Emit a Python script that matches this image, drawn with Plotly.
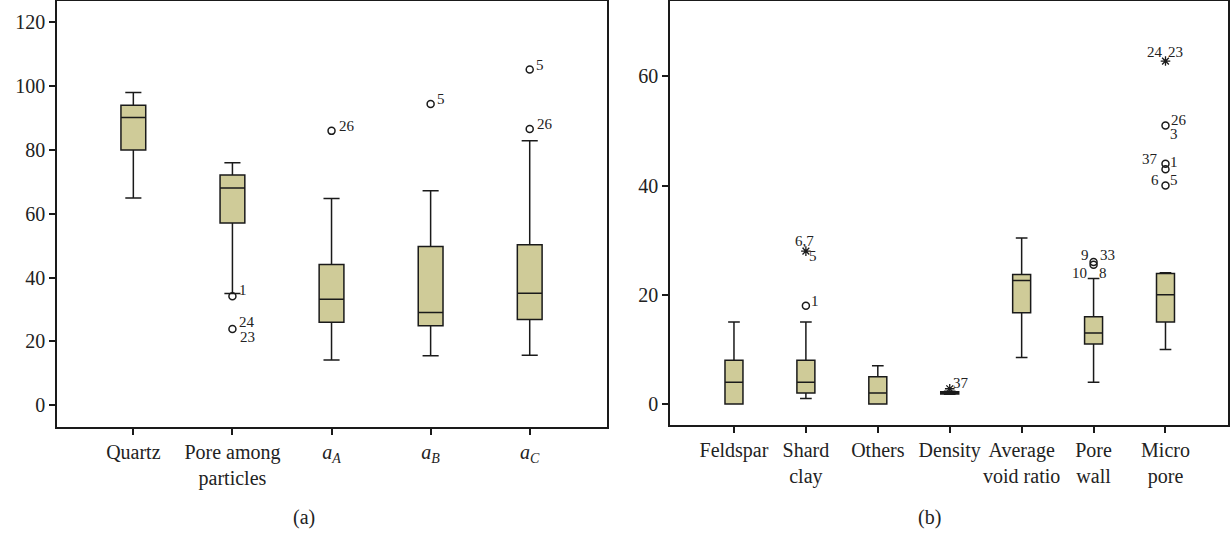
import plotly.graph_objects as go

# ---------------- data ----------------
cats_a = ["Quartz", "Pore among<br>particles", "<i>a</i><sub><i>A</i></sub>",
          "<i>a</i><sub><i>B</i></sub>", "<i>a</i><sub><i>C</i></sub>"]
lo_a = [65, 35, 14.2, 15.5, 15.7]
q1_a = [80, 57.1, 26, 24.9, 26.9]
med_a = [90.2, 68.1, 33.2, 29.1, 35.1]
q3_a = [94, 72.2, 44.1, 49.8, 50.3]
hi_a = [98, 76, 64.8, 67.2, 82.9]

# outliers panel a: (category index, value, marker type)
out_a_x = [1, 1, 2, 3, 4, 4]
out_a_y = [34.2, 23.9, 86, 94.4, 105.2, 86.6]
out_a_sym = ["o", "o", "o", "o", "o", "o"]

cats_b = ["Feldspar", "Shard<br>clay", "Others", "Density", "Average<br>void ratio",
          "Pore<br>wall", "Micro<br>pore"]
lo_b = [0, 1, 0, 1.8, 8.5, 4, 10]
q1_b = [0, 2, 0, 1.85, 16.7, 11, 15]
med_b = [4, 4, 2, 2.05, 22.6, 13, 20]
q3_b = [8, 8, 5, 2.25, 23.7, 16, 23.9]
hi_b = [15, 15, 7, 2.35, 30.4, 23, 24.05]

out_b_x = [1, 1, 3, 5, 5, 6, 6, 6, 6, 6]
out_b_y = [28, 18, 2.8, 26, 25.5, 62.8, 51, 44, 43, 40]
out_b_sym = ["*", "o", "*", "o", "o", "*", "o", "o", "o", "o"]

# outlier labels: (panel, category index, value, text, dx, dy)
labels = [
    ("a", 1, 34.2, "1", 11, 6),
    ("a", 1, 23.9, "24", 15, 7),
    ("a", 1, 23.9, "23", 15, -8),
    ("a", 2, 86, "26", 15, 5),
    ("a", 3, 94.4, "5", 10, 5),
    ("a", 4, 105.2, "5", 10, 5),
    ("a", 4, 86.6, "26", 15, 5),
    ("b", 1, 28, "6,7", -1, 10),
    ("b", 1, 28, "5", 7, -5),
    ("b", 1, 18, "1", 9, 5),
    ("b", 3, 2.8, "37", 11, 6),
    ("b", 5, 26, "9", -9, 7),
    ("b", 5, 26, "33", 14, 7),
    ("b", 5, 25.5, "10", -14, -8),
    ("b", 5, 25.5, "8", 9, -8),
    ("b", 6, 62.8, "24", -10, 9),
    ("b", 6, 62.8, "23", 10, 9),
    ("b", 6, 51, "26", 14, 6),
    ("b", 6, 51, "3", 9, -8),
    ("b", 6, 44, "37", -15, 5),
    ("b", 6, 44, "1", 9, 2),
    ("b", 6, 40, "6", -10, 6),
    ("b", 6, 40, "5", 9, 6),
]

# ---------------- style ----------------
FONT = "Liberation Serif"
FILL = "#CFCB98"
LINE = "#1a1a1a"
TXT = "#222222"

fig = go.Figure()

def add_boxes(xs, lo, q1, med, q3, hi, xa, ya):
    fig.add_trace(go.Box(
        x=xs, lowerfence=lo, q1=q1, median=med, q3=q3, upperfence=hi,
        fillcolor=FILL, line=dict(color=LINE, width=1.5), width=0.25,
        whiskerwidth=0.65, boxpoints=False, xaxis=xa, yaxis=ya,
        showlegend=False, hoverinfo="skip"))

def add_outliers(xs, ys, syms, xa, ya):
    cx = [x for x, s in zip(xs, syms) if s == "o"]
    cy = [y for y, s in zip(ys, syms) if s == "o"]
    sx = [x for x, s in zip(xs, syms) if s == "*"]
    sy = [y for y, s in zip(ys, syms) if s == "*"]
    fig.add_trace(go.Scatter(x=cx, y=cy, mode="markers", xaxis=xa, yaxis=ya,
                             marker=dict(symbol="circle-open", size=7, color=LINE,
                                         line=dict(color=LINE, width=1.5)),
                             showlegend=False, hoverinfo="skip"))
    if sx:
        fig.add_trace(go.Scatter(x=sx, y=sy, mode="markers", xaxis=xa, yaxis=ya,
                                 marker=dict(symbol="asterisk-open", size=8, color=LINE,
                                             line=dict(color=LINE, width=1.3)),
                                 showlegend=False, hoverinfo="skip"))

add_boxes(list(range(len(cats_a))), lo_a, q1_a, med_a, q3_a, hi_a, "x", "y")
add_outliers(out_a_x, out_a_y, out_a_sym, "x", "y")
add_boxes(list(range(len(cats_b))), lo_b, q1_b, med_b, q3_b, hi_b, "x2", "y2")
add_outliers(out_b_x, out_b_y, out_b_sym, "x2", "y2")

for panel, ci, v, t, dx, dy in labels:
    fig.add_annotation(x=ci, y=v, text=t, showarrow=False,
                       xref="x" if panel == "a" else "x2",
                       yref="y" if panel == "a" else "y2",
                       xshift=dx, yshift=dy,
                       font=dict(family=FONT, size=15, color=TXT))

axis_common = dict(showline=True, linecolor=LINE, linewidth=1.5, mirror=True,
                   ticks="outside", ticklen=6, tickwidth=1.5, tickcolor=LINE,
                   showgrid=False, zeroline=False,
                   tickfont=dict(family=FONT, size=20, color=TXT))

fig.update_layout(
    width=1232, height=535, margin=dict(l=0, r=0, t=1, b=108),
    paper_bgcolor="white", plot_bgcolor="white",
    xaxis=dict(domain=[0.0463, 0.4927], range=[-0.77, 4.78],
               tickvals=list(range(len(cats_a))), ticktext=cats_a, anchor="y",
               **axis_common),
    yaxis=dict(domain=[0, 1], range=[-6.8, 126.7], tickvals=[0, 20, 40, 60, 80, 100, 120],
               anchor="x", **axis_common),
    xaxis2=dict(domain=[0.5438, 0.9968], range=[-0.89, 6.87],
                tickvals=list(range(len(cats_b))), ticktext=cats_b, anchor="y2",
                **axis_common),
    yaxis2=dict(domain=[0.0047, 1], range=[-3.84, 73.8], tickvals=[0, 20, 40, 60],
                anchor="x2", **axis_common),
    annotations=list(fig.layout.annotations) + [
        dict(text="(a)", x=304 / 1232, y=-0.2136, xref="paper", yref="paper",
             xanchor="center", yanchor="middle",
             showarrow=False, font=dict(family=FONT, size=20, color=TXT)),
        dict(text="(b)", x=929 / 1232, y=-0.2136, xref="paper", yref="paper",
             xanchor="center", yanchor="middle",
             showarrow=False, font=dict(family=FONT, size=20, color=TXT)),
    ],
)

fig.write_html("out.html")
